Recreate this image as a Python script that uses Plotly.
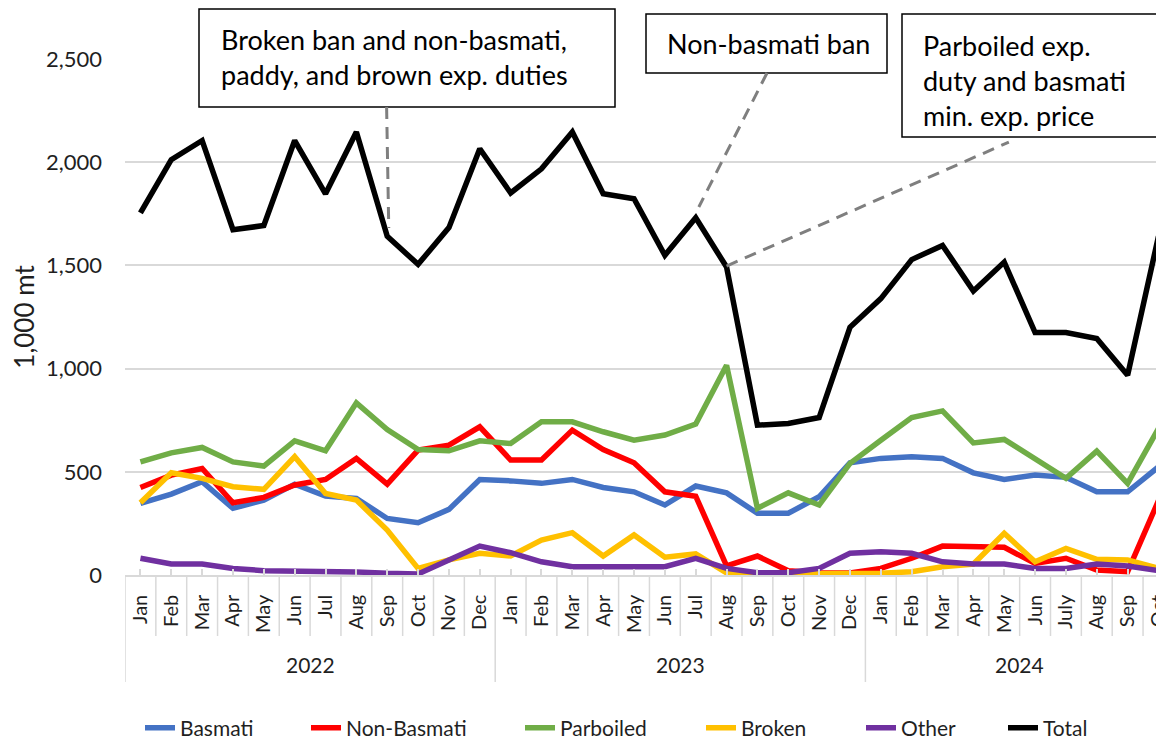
import plotly.graph_objects as go

# ---------------- data ----------------
years = ["2022", "2023", "2024"]
months_2022 = ["Jan", "Feb", "Mar", "Apr", "May", "Jun", "Jul", "Aug", "Sep", "Oct", "Nov", "Dec"]
months_2023 = ["Jan", "Feb", "Mar", "Apr", "May", "Jun", "Jul", "Aug", "Sep", "Oct", "Nov", "Dec"]
months_2024 = ["Jan", "Feb", "Mar", "Apr", "May", "Jun", "July", "Aug", "Sep", "Oct"]
month_labels = months_2022 + months_2023 + months_2024

basmati = [347, 392, 452, 323, 363, 440, 382, 371, 274, 253, 318, 463,
           456, 444, 463, 424, 403, 339, 431, 398, 299, 299, 379, 544,
           565, 573, 565, 495, 463, 484, 473, 403, 403, 524]
non_basmati = [424, 484, 516, 350, 376, 436, 463, 565, 440, 605, 629, 718,
               557, 557, 702, 608, 544, 403, 382, 44, 92, 21, 11, 10,
               32, 81, 140, 134, 134, 56, 81, 24, 16, 360]
parboiled = [548, 592, 618, 548, 528, 650, 602, 834, 705, 608, 602, 650,
             637, 742, 742, 694, 653, 678, 731, 1016, 323, 398, 339, 541,
             653, 763, 795, 640, 657, 560, 468, 600, 444, 710]
broken = [350, 495, 468, 428, 415, 573, 395, 363, 218, 32, 73, 105,
          92, 169, 205, 92, 194, 86, 102, 10, 5, 5, 5, 5,
          8, 16, 40, 53, 202, 64, 129, 76, 73, 32]
other = [81, 53, 53, 32, 21, 21, 15, 15, 8, 5, 73, 140,
         108, 64, 40, 40, 40, 40, 81, 32, 11, 11, 32, 105,
         113, 105, 64, 53, 53, 32, 32, 53, 44, 21]
total = [1754, 2012, 2105, 1673, 1693, 2105, 1847, 2146, 1641, 1505, 1683, 2065,
         1851, 1968, 2146, 1847, 1823, 1549, 1731, 1492, 726, 734, 763, 1200,
         1339, 1528, 1597, 1376, 1516, 1175, 1175, 1146, 968, 1641]

series_names = ["Basmati", "Non-Basmati", "Parboiled", "Broken", "Other", "Total"]
series_values = [basmati, non_basmati, parboiled, broken, other, total]
series_colors = ["#4472C4", "#FF0000", "#70AD47", "#FFC000", "#7030A0", "#000000"]

events = [
    "Broken ban and non-basmati,<br>paddy, and brown exp. duties",
    "Non-basmati ban",
    "Parboiled exp.<br>duty and basmati<br>min. exp. price",
]

# ---------------- geometry (page has an 8px body margin) ----------------
OFF = 8
W, H = 1164 - OFF, 740 - OFF
PLOT_L, PLOT_R, PLOT_T, PLOT_B = 125, 1164, 59, 575   # screen px
ML = PLOT_L - OFF
MR = 0
MT = PLOT_T - OFF
MB = H - (PLOT_B - OFF)
PW = PLOT_R - PLOT_L
PH = PLOT_B - PLOT_T
FONT = "Lato, 'Open Sans', sans-serif"
TXT = "#1f1f1f"
GRID = "#d9d9d9"

def px_x(p):
    return (p - PLOT_L) / PW

def px_y(p):
    return (PLOT_B - p) / PH

x_idx = list(range(len(month_labels)))

fig = go.Figure()
for i, (name, vals, col) in enumerate(zip(series_names, series_values, series_colors)):
    fig.add_trace(go.Scatter(
        x=x_idx, y=vals, mode="lines", name=name,
        line=dict(color=col, width=5.5),
        legend="legend" if i == 0 else f"legend{i+1}",
    ))

shapes = []
year_bounds = [-0.5, 11.5, 23.5]
for k in range(len(month_labels) - 1):
    b = k + 0.5
    if b in year_bounds:
        continue
    shapes.append(dict(type="line", xref="x", yref="paper", x0=b, x1=b,
                       y0=0, y1=px_y(636), line=dict(color=GRID, width=1.5)))
for b in year_bounds:
    shapes.append(dict(type="line", xref="x", yref="paper", x0=b, x1=b,
                       y0=0, y1=px_y(682), line=dict(color=GRID, width=1.5)))

boxes = [(199, 9, 615, 107), (646, 14, 887, 73), (902, 14, 1175, 137)]
for (x0, y0, x1, y1) in boxes:
    shapes.append(dict(type="rect", xref="paper", yref="paper",
                       x0=px_x(x0), x1=px_x(x1), y0=px_y(y1), y1=px_y(y0),
                       line=dict(color="#000000", width=1.5), fillcolor="white",
                       layer="above"))

connectors = [((7.98, 2267), (8.05, 1681)),
              ((20.31, 2432), (18.1, 1783)),
              ((19.0, 1497), (28.15, 2097))]
for (a, b) in connectors:
    shapes.append(dict(type="line", xref="x", yref="y", x0=a[0], y0=a[1], x1=b[0], y1=b[1],
                       line=dict(color="#7F7F7F", width=3, dash="12px,8px"), layer="above"))

annotations = []
text_pos = [(219, 57), (665, 44), (921, 81)]
for t, (tx, ty) in zip(events, text_pos):
    annotations.append(dict(text=t, xref="paper", yref="paper", x=px_x(tx), y=px_y(ty),
                            xanchor="left", yanchor="middle", align="left", showarrow=False,
                            font=dict(family=FONT, size=27, color="#000000")))

year_centers = [5.5, 17.5, 28.5]
for yr, c in zip(years, year_centers):
    annotations.append(dict(text=yr, xref="x", yref="paper", x=c, y=px_y(664),
                            xanchor="center", yanchor="middle", showarrow=False,
                            font=dict(family=FONT, size=21, color=TXT)))

layout = dict(
    width=W, height=H,
    margin=dict(l=ML, r=MR, t=MT, b=MB, autoexpand=False),
    paper_bgcolor="white", plot_bgcolor="white",
    font=dict(family=FONT, color=TXT),
    xaxis=dict(
        range=[-0.5, -0.5 + PW / 30.85],
        tickmode="array", tickvals=x_idx, ticktext=month_labels,
        tickangle=-90, tickfont=dict(family=FONT, size=20, color=TXT),
        ticks="inside", ticklen=6, tickcolor=GRID, tickwidth=1.5,
        ticklabelstandoff=10, ticklabeloverflow="allow",
        showgrid=False, zeroline=False,
        showline=True, linecolor=GRID, linewidth=1.5,
    ),
    yaxis=dict(
        range=[0, 2500], tickmode="array",
        tickvals=[0, 500, 1000, 1500, 2000, 2500],
        tickformat=",", tickfont=dict(family=FONT, size=22, color=TXT),
        showgrid=True, gridcolor=GRID, gridwidth=1.5,
        zeroline=False, showline=False, ticks="",
        ticklabelstandoff=22,
        title=dict(text="1,000 mt", font=dict(family=FONT, size=26, color=TXT), standoff=7),
    ),
    shapes=shapes,
    annotations=annotations,
    showlegend=True,
)

legend_text_starts = [185, 351, 565, 746, 906, 1048]
for i, ts in enumerate(legend_text_starts):
    key = "legend" if i == 0 else f"legend{i+1}"
    layout[key] = dict(
        orientation="h", xref="container", yref="container",
        x=(ts - 45 - OFF) / W, xanchor="left",
        y=(H - (728 - OFF)) / H, yanchor="middle",
        font=dict(family=FONT, size=21, color=TXT),
        bgcolor="rgba(0,0,0,0)", borderwidth=0,
    )

fig.update_layout(**layout)
fig.write_html("out.html")
